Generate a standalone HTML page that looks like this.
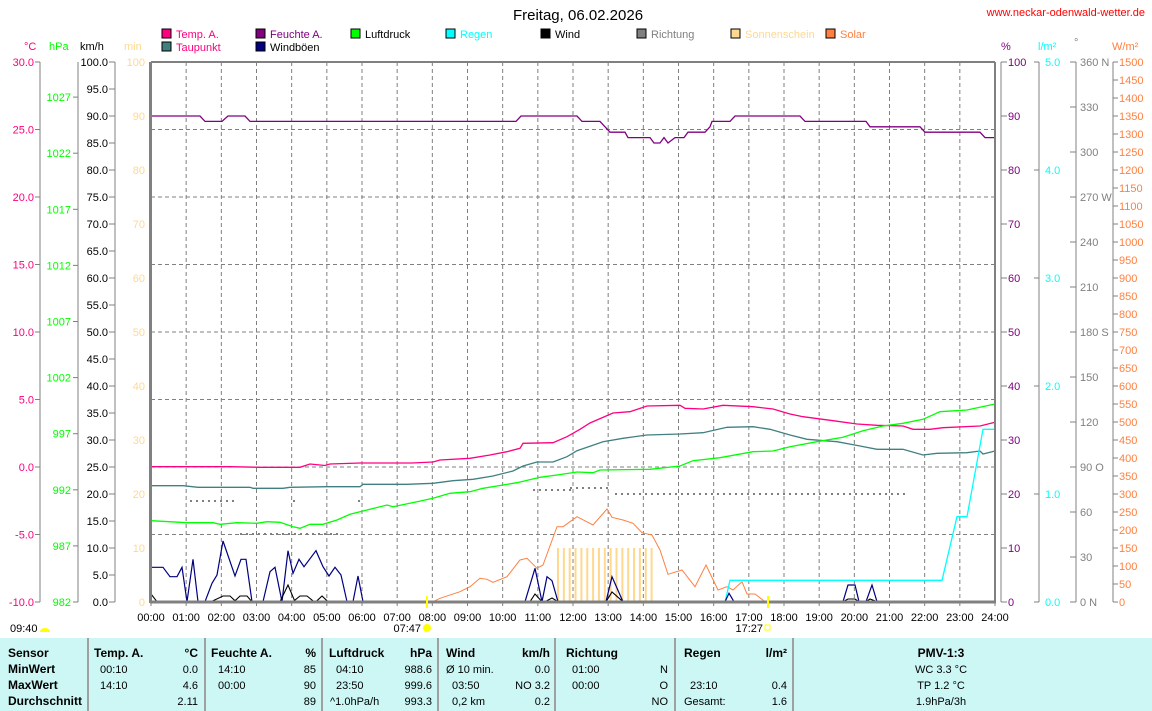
<!DOCTYPE html>
<html><head><meta charset="utf-8"><style>
html,body{margin:0;padding:0;background:#fff}
svg{display:block}
text{font-family:"Liberation Sans",sans-serif;font-size:11px}
.b{font-weight:bold;font-size:12px}
</style></head><body>
<svg id="s" width="1152" height="711" xmlns="http://www.w3.org/2000/svg">
<rect width="1152" height="711" fill="#fff"/>
<text x="578" y="20" text-anchor="middle" style="font-size:15px">Freitag, 06.02.2026</text>
<text x="1145" y="16" text-anchor="end" fill="#ff0000">www.neckar-odenwald-wetter.de</text>
<g id="g"></g>
</svg>
<script>
const g=document.getElementById('g');let h='';
const X=t=>151+t*35.1667;
const L=(x1,y1,x2,y2,c,w,d)=>h+=`<line x1="${x1}" y1="${y1}" x2="${x2}" y2="${y2}" stroke="${c}" stroke-width="${w||1}" ${d?'stroke-dasharray="'+d+'"':''}/>`;
const T=(x,y,s,c,a,cls)=>h+=`<text x="${x}" y="${y}" fill="${c||'#000'}" ${a?'text-anchor="'+a+'"':''} ${cls?'class="'+cls+'"':''}>${s}</text>`;
const P=(pts,c,w)=>h+=`<polyline fill="none" stroke="${c}" stroke-width="${w||1.3}" points="${pts.map(p=>p.join(',')).join(' ')}"/>`;
// legend
const leg=[[162,'#ff0080','Temp. A.','#ff0080',38],[256,'#800080','Feuchte A.','#800080',38],[351,'#00ff00','Luftdruck','#000',38],[446,'#00ffff','Regen','#00ffff',38],[541,'#000','Wind','#000',38],[637,'#808080','Richtung','#808080',38],[731,'#ffd890','Sonnenschein','#ffd890',38],[826,'#ff8040','Solar','#ff8040',38],[162,'#408080','Taupunkt','#ff0080',51],[256,'#000080','Windböen','#000',51]];
leg.forEach(l=>{h+=`<rect x="${l[0]}" y="${l[4]-9}" width="9" height="9" fill="${l[1]}" stroke="#000" stroke-width="1"/>`;T(l[0]+14,l[4],l[2],l[3]);});
// unit headers
T(24,50,'°C','#ff0080');T(49,50,'hPa','#00ff00');T(80,50,'km/h');T(124,50,'min','#ffd890');
T(1001,50,'%','#800080');T(1038,50,'l/m²','#00ffff');T(1074,46,'°','#808080');T(1112,50,'W/m²','#ff8040');
// grid
for(let i=1;i<24;i++)L(X(i),62,X(i),602,'#808080',1,'4,3');
for(let k=1;k<8;k++){const y=62+k*67.5;L(151,y,995,y,'#808080',1,'4,3');}
// left axes
L(40,62,40,602,'#808080');L(78,62,78,602,'#808080');L(115,62,115,602,'#808080');
for(let v=30;v>=-10;v-=5){const y=602-(v+10)*13.5;L(35,y,40,y,'#808080');T(34,y+4,v.toFixed(1),'#ff0080','end');}
for(let v=982;v<=1027;v+=5){const y=602-(v-982)*11.22;L(73,y,78,y,'#808080');T(71,y+4,v,'#00ff00','end');}
for(let v=0;v<=100;v+=5){const y=602-v*5.4;L(109,y,115,y,'#808080');T(108,y+4,v.toFixed(1),'#000','end');}
for(let v=0;v<=100;v+=10){const y=602-v*5.4;T(145,y+4,v,'#ffd890','end');}
// right axes
L(1001,62,1001,602,'#808080');L(1039,62,1039,602,'#808080');L(1076,62,1076,602,'#808080');L(1113,62,1113,602,'#808080');
for(let v=0;v<=100;v+=10){const y=602-v*5.4;L(1001,y,1007,y,'#808080');T(1008,y+4,v,'#800080');}
for(let v=0;v<=5;v++){const y=602-v*108;L(1034,y,1039,y,'#808080');T(1045,y+4,v.toFixed(1),'#00ffff');}
const dl={360:'360 N',270:'270 W',180:'180 S',90:'90 O',0:'0 N'};
for(let v=0;v<=360;v+=30){const y=602-v*1.5;L(1070,y,1076,y,'#808080');T(1080,y+4,dl[v]||v,'#808080');}
for(let v=0;v<=1500;v+=50){const y=602-v*0.36;L(1113,y,1118,y,'#808080');T(1119,y+4,v,'#ff8040');}
// x labels
for(let i=0;i<=24;i++){L(X(i),602,X(i),606,'#808080');T(X(i),621,(i<10?'0':'')+i+':00','#000','middle');}
// sunshine bars
for(let k=0;k<17;k++){const x=558+k*5.85;h+=`<rect x="${x-1}" y="548" width="2" height="54" fill="#ffd890"/>`;}
// direction dots
const dots=(x1,x2,y)=>{for(let x=x1;x<=x2;x+=6)h+=`<rect x="${x}" y="${y}" width="2" height="2" fill="#808080"/>`;};
dots(190,237,500);h+=`<rect x="293" y="500" width="2" height="2" fill="#808080"/><rect x="358" y="500" width="2" height="2" fill="#808080"/>`;
dots(240,340,533);dots(533,573,489);dots(570,607,487);dots(615,903,493);
// humidity
const H=v=>602-v*5.4;
P([[151,H(90)],[200,H(90)],[205,H(89)],[222,H(89)],[228,H(90)],[245,H(90)],[250,H(89)],[516,H(89)],[521,H(90)],[577,H(90)],[582,H(89)],[600,H(89)],[605,H(88)],[610,H(87)],[625,H(87)],[628,H(86)],[650,H(86)],[654,H(85)],[660,H(85)],[664,H(86)],[668,H(85)],[675,H(86)],[684,H(86)],[688,H(87)],[705,H(87)],[710,H(88)],[712,H(89)],[730,H(89)],[735,H(90)],[800,H(90)],[805,H(89)],[866,H(89)],[870,H(88)],[920,H(88)],[925,H(87)],[980,H(87)],[985,H(86)],[995,H(86)]],'#800080');
// temp
P([[151,466.7],[230,466.7],[260,467.3],[300,467.3],[310,464],[325,465.5],[330,464],[360,463],[412,463],[433,462],[440,460],[470,458.3],[490,455],[507,451.7],[520,448.3],[523,443.3],[553,442.7],[567,436.7],[580,429.3],[590,423],[613,413],[630,411.7],[647,406],[680,405.3],[685,408.3],[703,409],[723,405.3],[753,406.7],[773,409],[790,414],[803,416.7],[833,420.7],[857,424],[877,425.3],[903,426],[913,429.3],[930,429.3],[943,427.7],[980,426],[995,422.3]],'#ff0080');
// dewpoint
P([[151,485.7],[183,485.7],[198,487.3],[250,487.3],[253,488.3],[283,488.3],[290,487.3],[327,486.7],[360,486.7],[363,484.3],[407,484.3],[433,483.3],[453,480.7],[473,479.3],[493,476],[513,471],[523,466],[537,462],[553,462],[567,456.7],[577,450.7],[603,441.7],[623,438.3],[647,435],[680,434],[703,432.7],[727,427.3],[753,426.7],[770,429.3],[790,435],[807,439.3],[837,441.7],[860,446],[877,449.3],[903,449.3],[923,455],[937,453.3],[967,452.7],[980,451],[983,454],[995,451]],'#408080');
// pressure
P([[151,520.7],[187,522.7],[213,522.7],[220,524.3],[237,522.7],[257,523.3],[267,521.7],[280,522.3],[293,526.7],[300,528.3],[310,524.3],[323,524.3],[337,520],[350,514.3],[367,510],[387,505],[393,506.7],[417,501.7],[433,498.3],[450,493.3],[470,491.7],[483,488.3],[503,485],[517,482.7],[540,477.3],[557,475],[577,472],[593,472.7],[600,470],[650,469.3],[680,466],[693,460.7],[720,457.7],[753,451.7],[773,451],[790,446.7],[817,441.7],[843,437.3],[863,430.7],[883,426],[903,423.3],[923,419.3],[940,411.7],[967,410],[995,404]],'#00ff00');
// solar
P([[433,601.7],[440,598.3],[460,591.7],[470,586.7],[480,578.3],[487,579.3],[493,582.3],[507,576.7],[520,560],[527,558.3],[537,568.3],[543,565],[557,526.7],[563,526.7],[577,516.7],[593,525],[607,509],[612,517.3],[623,520],[633,523.3],[642,532.7],[652,535],[660,550],[668,574.3],[682,570],[695,586.7],[706,565],[718,590],[727,586.7],[733,590],[742,581.7],[747,594],[755,594],[765,601.7]],'#ff8040',1);
// rain
P([[725,602],[730,580.3],[942,580.3],[957,516.7],[967,516.7],[983,429.3],[995,429.3]],'#00ffff');
// gusts
P([[151,567.3],[163,567.3],[170,576.7],[177,576.7],[182,567.3],[187,601.7],[193,559.3],[198,601.7],[205,601.7],[212,583.3],[217,575],[223,541],[235,576],[241,559.3],[246,559.3],[252,601.7],[263,601.7],[270,571.7],[275,567.3],[282,601.7],[288,550.7],[293,573.3],[299,559.3],[304,566.7],[316,550.7],[323,566.7],[329,576],[335,567.3],[341,575],[347,601.7],[353,601.7],[358,576],[363,601.7]],'#000080',1.2);
[[[525,601.7],[535,568.3],[542,601.7],[547,576.7],[552,580.7],[558,601.7]],[[606,601.7],[612,576.7],[623,601.7]],[[725,601.7],[729,593.3],[734,601.7]],[[843,601.7],[848,585],[855,585],[859,601.7]],[[866,601.7],[872,585],[877,601.7]]].forEach(p=>P(p,'#000080',1.2));
// wind
[[[151,594],[157,601.7]],[[211,601.7],[223,596],[230,596],[236,601.7]],[[234,601.7],[240,596],[247,596],[252,601.7]],[[280,601.7],[288,585],[295,601.7]],[[293,601.7],[300,596],[307,596],[314,601.7]],[[316,601.7],[322,596],[328,601.7]],[[530,601.7],[535,594],[542,601.7]],[[545,601.7],[552,598],[558,601.7]],[[606,601.7],[612,592],[623,601.7]],[[843,601.7],[848,599],[855,599],[859,601.7]],[[866,601.7],[870,599],[877,601.7]]].forEach(p=>P(p,'#000',1.1));
// frame
L(151,62,995,62,'#808080',2);L(995,62,995,603,'#808080',2);L(150.5,62,150.5,603,'#808080',3);L(150,602,996,602,'#808080',3);
// sun markers
h+=`<rect x="426" y="596" width="2" height="12" fill="#ffff00"/><rect x="767" y="596" width="2" height="12" fill="#ffff00"/>`;
T(421,632,'07:47','#000','end');h+=`<circle cx="427" cy="628" r="4" fill="#ffff00"/>`;
T(763,632,'17:27','#000','end');h+=`<rect x="765" y="625" width="5" height="5" fill="none" stroke="#ffff00"/>`;
T(10,632,'09:40');h+=`<path d="M40 632 a5 4 0 0 1 10 0 z" fill="#ffff00"/>`;
// table
h+=`<rect x="0" y="638" width="1152" height="73" fill="#ccf7f5"/>`;
[88,205,322,438,555,675,793].forEach(x=>L(x,638,x,711,'#a0a0a0',2));
const R=[657,673,689,705];
T(8,R[0],'Sensor','#000','','b');T(8,R[1],'MinWert','#000','','b');T(8,R[2],'MaxWert','#000','','b');T(8,R[3],'Durchschnitt','#000','','b');
T(94,R[0],'Temp. A.','#000','','b');T(198,R[0],'°C','#000','end','b');
T(211,R[0],'Feuchte A.','#000','','b');T(316,R[0],'%','#000','end','b');
T(329,R[0],'Luftdruck','#000','','b');T(432,R[0],'hPa','#000','end','b');
T(446,R[0],'Wind','#000','','b');T(550,R[0],'km/h','#000','end','b');
T(566,R[0],'Richtung','#000','','b');
T(684,R[0],'Regen','#000','','b');T(787,R[0],'l/m²','#000','end','b');
T(941,R[0],'PMV-1:3','#000','middle','b');
T(100,R[1],'00:10');T(198,R[1],'0.0','#000','end');T(100,R[2],'14:10');T(198,R[2],'4.6','#000','end');T(198,R[3],'2.11','#000','end');
T(218,R[1],'14:10');T(316,R[1],'85','#000','end');T(218,R[2],'00:00');T(316,R[2],'90','#000','end');T(316,R[3],'89','#000','end');
T(336,R[1],'04:10');T(432,R[1],'988.6','#000','end');T(336,R[2],'23:50');T(432,R[2],'999.6','#000','end');T(330,R[3],'^1.0hPa/h');T(432,R[3],'993.3','#000','end');
T(446,R[1],'Ø 10 min.');T(550,R[1],'0.0','#000','end');T(452,R[2],'03:50');T(550,R[2],'NO 3.2','#000','end');T(452,R[3],'0,2 km');T(550,R[3],'0.2','#000','end');
T(572,R[1],'01:00');T(668,R[1],'N','#000','end');T(572,R[2],'00:00');T(668,R[2],'O','#000','end');T(668,R[3],'NO','#000','end');
T(690,R[2],'23:10');T(787,R[2],'0.4','#000','end');T(684,R[3],'Gesamt:');T(787,R[3],'1.6','#000','end');
T(941,R[1],'WC 3.3 °C','#000','middle');T(941,R[2],'TP 1.2 °C','#000','middle');T(941,R[3],'1.9hPa/3h','#000','middle');
g.innerHTML=h;
</script>
</body></html>
